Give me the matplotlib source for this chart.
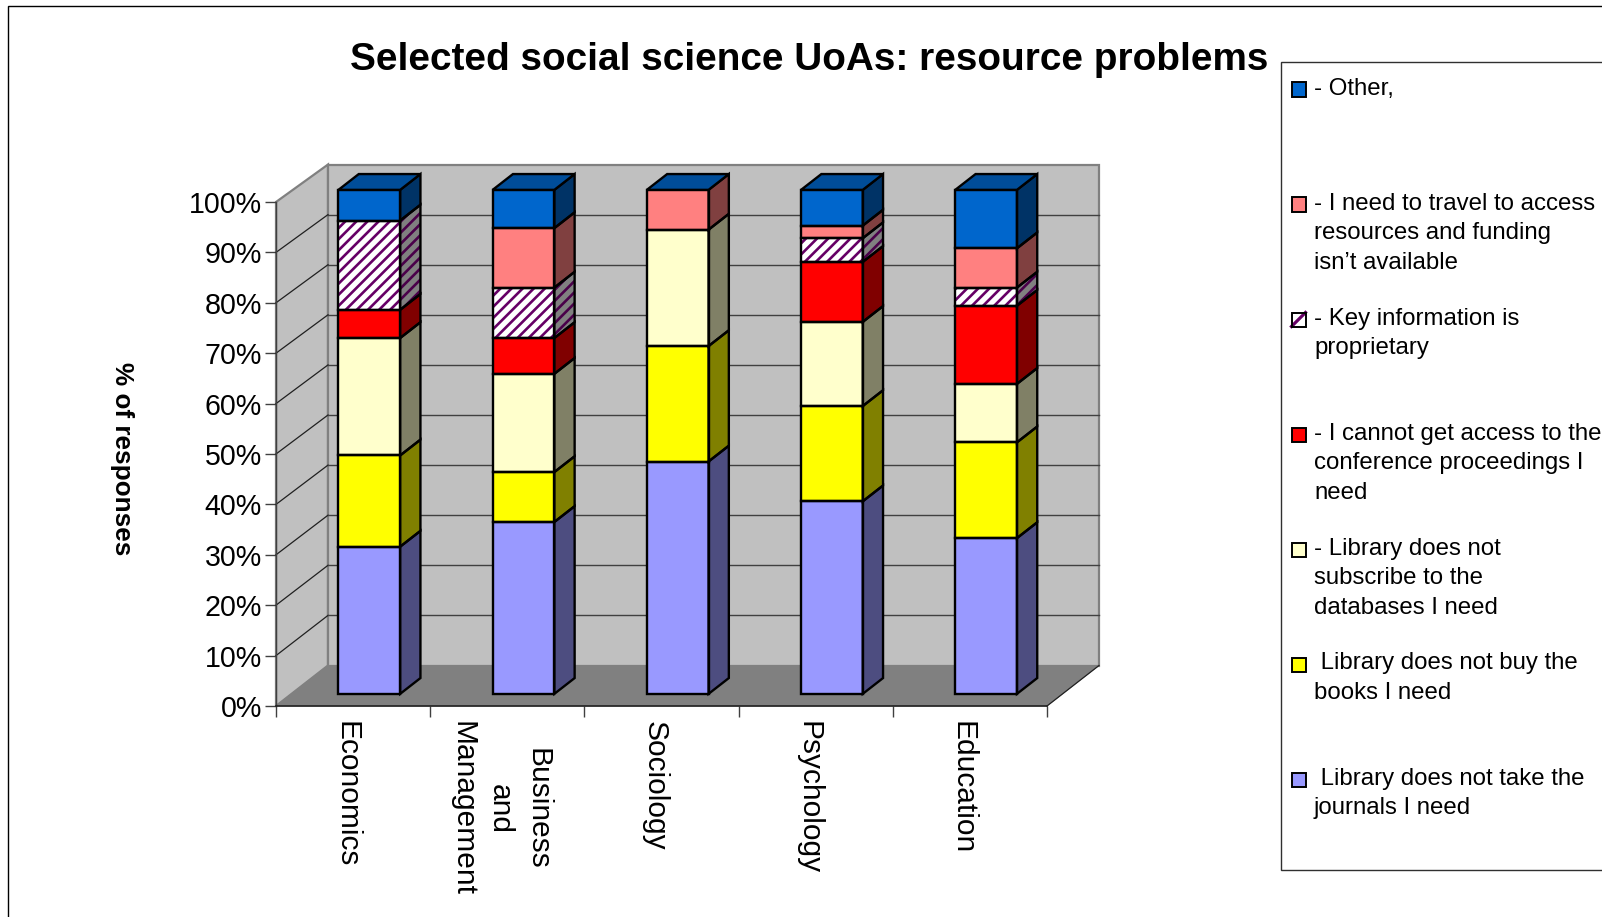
import matplotlib
matplotlib.use('Agg')
import matplotlib.pyplot as plt
import numpy as np
from matplotlib.lines import Line2D
from matplotlib.patches import Polygon, Rectangle

plt.rcParams['font.family'] = ['Liberation Sans', 'DejaVu Sans']
plt.rcParams['hatch.linewidth'] = 1.9

categories = ['Economics', 'Business\nand\nManagement', 'Sociology', 'Psychology', 'Education']

# Stacked shares per category, bottom to top
journals = [29.2, 34.1, 46.1, 38.2, 30.9]
books = [18.1, 9.9, 22.9, 18.9, 19.0]
databases = [23.3, 19.5, 23.1, 16.7, 11.6]
conference = [5.6, 7.1, 0.0, 11.9, 15.5]
proprietary = [17.7, 10.0, 0.0, 4.7, 3.6]
travel = [0.0, 11.8, 7.9, 2.5, 7.8]
other = [6.1, 7.6, 0.0, 7.1, 11.6]

series = [journals, books, databases, conference, proprietary, travel, other]
front_colors = ['#9999FF', '#FFFF00', '#FFFFCC', '#FF0000', '#FFFFFF', '#FF8080', '#0066CC']
side_colors = ['#4D4D80', '#808000', '#808066', '#800000', '#808080', '#804040', '#003366']
top_color = '#004D99'
hatch_color = '#660066'
hatch_side_color = '#4A004A'

# Top to bottom, as listed in the key
legend_labels = [
    '- Other,',
    '- I need to travel to access\nresources and funding\nisn\u2019t available',
    '- Key information is\nproprietary',
    '- I cannot get access to the\nconference proceedings I\nneed',
    '- Library does not\nsubscribe to the\ndatabases I need',
    ' Library does not buy the\nbooks I need',
    ' Library does not take the\njournals I need',
]
legend_colors = front_colors[::-1]
yticks = list(range(0, 101, 10))

W, H = 1602, 917
fig = plt.figure(figsize=(W / 100, H / 100), dpi=100)


def fx(px):
    return px / W


def fy(px):
    return 1 - px / H


ax = fig.add_axes([fx(276), fy(706), 771 / W, 504 / H])
ax.set_xlim(0, 5)
ax.set_ylim(0, 100)

# Oblique offset of the back wall, in data units; the back is drawn a touch smaller
DX = 52 / 154.2
DY = 40.5 / 5.04
BACK = 0.994
BAR_W = 0.400
D_FRONT = 0.3
D_BACK = 0.69


def poly(pts, **kw):
    p = Polygon(pts, closed=True, clip_on=False, **kw)
    ax.add_patch(p)
    return p


# Walls and floor
wall_top = 100 * BACK + DY
poly([(0, 0), (DX, DY), (DX, wall_top), (0, 100)], fc='#C0C0C0', ec='#808080', lw=1.6, zorder=1)
poly([(DX, DY), (5 + DX, DY), (5 + DX, wall_top), (DX, wall_top)], fc='#C0C0C0', ec='#808080', lw=1.6, zorder=1)
poly([(0, 0), (5, 0), (5 + DX, DY), (DX, DY)], fc='#808080', ec='#808080', lw=0.5, zorder=1.5)

# Gridlines run along the side wall and across the back
for v in yticks[1:-1]:
    back_v = v * BACK + DY
    ax.plot([0, DX], [v, back_v], color='#202020', lw=0.9, clip_on=False, zorder=2)
    ax.plot([DX, 5 + DX], [back_v, back_v], color='#404040', lw=1.0, clip_on=False, zorder=2)
ax.plot([5, 5 + DX], [0, DY], color='#202020', lw=0.9, clip_on=False, zorder=2)


def draw_bar(i, values):
    x0 = i + 0.5 - BAR_W / 2 + D_FRONT * DX + 0.004
    x1 = x0 + BAR_W
    sx = (D_BACK - D_FRONT) * DX
    sy = (D_BACK - D_FRONT) * DY
    base = D_FRONT * DY
    z = 3 + i
    bottom = 0.0
    for k, val in enumerate(values):
        if val == 0:
            continue
        v0 = base + bottom
        v1 = v0 + val
        front = [(x0, v0), (x1, v0), (x1, v1), (x0, v1)]
        side = [(x1, v0), (x1 + sx, v0 + sy), (x1 + sx, v1 + sy), (x1, v1)]
        if k == 4:
            # Hatch colour comes from the edge, so the outline goes on separately
            poly(front, fc=front_colors[k], ec=hatch_color, hatch='///', lw=0, zorder=z)
            poly(side, fc=side_colors[k], ec=hatch_side_color, hatch='///', lw=0, zorder=z)
        else:
            poly(front, fc=front_colors[k], ec='none', zorder=z)
            poly(side, fc=side_colors[k], ec='none', zorder=z)
        poly(front, fc='none', ec='black', lw=1.7, joinstyle='miter', zorder=z + 0.1)
        poly(side, fc='none', ec='black', lw=1.7, joinstyle='miter', zorder=z + 0.1)
        bottom += val
    # Top face takes the colour of the last series even when that series is empty
    v1 = base + bottom
    poly([(x0, v1), (x1, v1), (x1 + sx, v1 + sy), (x0 + sx, v1 + sy)],
         fc=top_color, ec='black', lw=1.7, joinstyle='miter', zorder=z + 0.2)


for i in range(len(categories)):
    draw_bar(i, [s[i] for s in series])

# Axes
for name in ('top', 'right'):
    ax.spines[name].set_visible(False)
ax.spines['left'].set_color('#404040')
ax.spines['bottom'].set_color('#202020')
ax.spines['left'].set_zorder(2.5)
ax.spines['bottom'].set_zorder(2.5)
ax.spines['left'].set_linewidth(1.0)
ax.spines['bottom'].set_linewidth(1.2)

ax.set_yticks(yticks)
ax.set_yticklabels([f'{v}%' for v in yticks], fontsize=20.6)
ax.tick_params(axis='y', length=8, width=1, color='#404040', pad=2)
ax.set_xticks(range(6))
ax.set_xticklabels([])
ax.tick_params(axis='x', which='major', length=8, width=1, color='#404040')
# Category names sit slightly left of the middle of each slot
ax.set_xticks(np.arange(5) + 0.454, minor=True)
ax.set_xticklabels(categories, minor=True, rotation=270, fontsize=21.5, ha='center', va='top',
                   multialignment='center', linespacing=1.43)
ax.tick_params(axis='x', which='minor', length=0, pad=11)

fig.text(fx(122), fy(458.7), '% of responses', rotation=270, fontsize=18.8, fontweight='bold',
         ha='center', va='center')
fig.text(fx(809), fy(60), 'Selected social science UoAs: resource problems', fontsize=27.9,
         fontweight='bold', ha='center', va='center')

# Outer chart frame runs off the right and bottom edges
fig.add_artist(Rectangle((fx(8), fy(H + 20)), 1.2, fy(6) - fy(H + 20), transform=fig.transFigure,
                         fc='none', ec='black', lw=1.0))

# Key
fig.add_artist(Rectangle((fx(1281), fy(870)), 0.3, fy(62) - fy(870), transform=fig.transFigure,
                         fc='white', ec='#303030', lw=1.0, zorder=5))
for n, (label, color) in enumerate(zip(legend_labels, legend_colors)):
    cy = 89.5 + n * 115
    fig.add_artist(Rectangle((fx(1291.5), fy(cy + 7)), 14 / W, 14 / H, transform=fig.transFigure,
                             fc=color, ec='none', zorder=6))
    if n == 2:
        fig.add_artist(Line2D([fx(1291.5), fx(1305.5)], [fy(cy + 7), fy(cy - 7)], transform=fig.transFigure,
                              color=hatch_color, lw=2.3, zorder=6.05))
    fig.add_artist(Rectangle((fx(1291.5), fy(cy + 7)), 14 / W, 14 / H, transform=fig.transFigure,
                             fc='none', ec='black', lw=1.4, zorder=6.1))
    fig.text(fx(1314), fy(cy - 12), label, fontsize=17.3, ha='left', va='top', linespacing=1.46, zorder=6)

fig.savefig('out.png', dpi=100)
